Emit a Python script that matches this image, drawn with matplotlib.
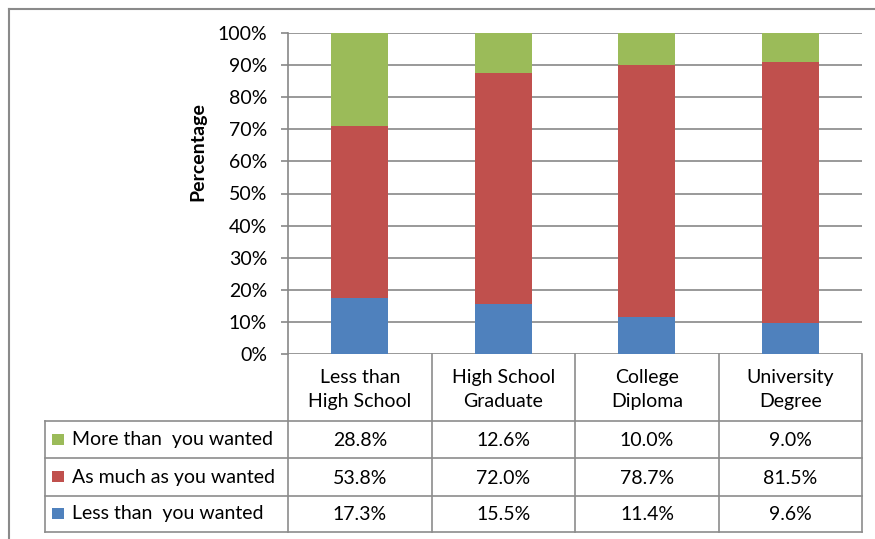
import matplotlib
matplotlib.use("Agg")
import matplotlib.pyplot as plt
from matplotlib.lines import Line2D
from matplotlib.patches import Rectangle
import numpy as np

plt.rcParams['font.family'] = ['Lato', 'DejaVu Sans']

categories = ["Less than\nHigh School", "High School\nGraduate", "College\nDiploma", "University\nDegree"]
series_names = ["More than  you wanted", "As much as you wanted", "Less than  you wanted"]
less_than = [17.3, 15.5, 11.4, 9.6]
as_much = [53.8, 72.0, 78.7, 81.5]
more_than = [28.8, 12.6, 10.0, 9.0]
yticks = [0, 10, 20, 30, 40, 50, 60, 70, 80, 90, 100]

c_green = "#9BBB59"
c_red = "#C0504D"
c_blue = "#4F81BD"
grid_c = "#878787"
FS = 14

W, H = 875, 539
fig = plt.figure(figsize=(W / 100, H / 100), dpi=100)

def fx(px):
    return px / W

def fy(py):
    return 1 - py / H

ax_l, ax_r, ax_t, ax_b = 288, 862, 33, 354
ax = fig.add_axes([fx(ax_l), fy(ax_b), fx(ax_r - ax_l), (ax_b - ax_t) / H])

x = np.arange(len(categories))
bw = 0.4
ax.bar(x, less_than, bw, color=c_blue, zorder=3)
ax.bar(x, as_much, bw, bottom=less_than, color=c_red, zorder=3)
bottom2 = [a + b for a, b in zip(less_than, as_much)]
ax.bar(x, more_than, bw, bottom=bottom2, color=c_green, zorder=3)

ax.set_xlim(-0.5, len(categories) - 0.5)
ax.set_ylim(0, 100)
ax.set_yticks(yticks)
ax.set_yticklabels([f"{v}%" for v in yticks], fontsize=FS)
ax.yaxis.grid(True, color=grid_c, linewidth=1.2, zorder=0)
ax.set_xticks([])
for s in ["top", "right", "bottom"]:
    ax.spines[s].set_visible(False)
ax.spines["left"].set_color(grid_c)
ax.spines["left"].set_linewidth(1.2)
ax.tick_params(axis='y', length=5, color=grid_c, width=1.2, pad=10)
ax.set_ylabel("Percentage", fontsize=FS, fontweight="bold")
ax.yaxis.set_label_coords((206 - ax_l) / (ax_r - ax_l), (ax_b - 152) / (ax_b - ax_t))

# Data table
col_x = [288, 432, 575, 719, 862]
row_y = [354, 421, 458, 496, 532]
tbl_left = 45
lc = "#8C8C8C"
lw = 1.2

def hline(x0, x1, y):
    fig.add_artist(Line2D([fx(x0), fx(x1)], [fy(y), fy(y)], color=lc, lw=lw))

def vline(xp, y0, y1):
    fig.add_artist(Line2D([fx(xp), fx(xp)], [fy(y0), fy(y1)], color=lc, lw=lw))

for y in row_y[1:]:
    hline(tbl_left, col_x[-1], y)
for xp in col_x:
    vline(xp, row_y[0], row_y[-1])
vline(tbl_left, row_y[1], row_y[-1])

for i, cat in enumerate(categories):
    cx = (col_x[i] + col_x[i + 1]) / 2
    fig.text(fx(cx), fy((row_y[0] + row_y[1]) / 2 + 2), cat, ha="center", va="center",
             fontsize=FS, linespacing=1.55)

rows = [(series_names[0], more_than, c_green),
        (series_names[1], as_much, c_red),
        (series_names[2], less_than, c_blue)]
for r, (name, vals, col) in enumerate(rows):
    y0, y1 = row_y[r + 1], row_y[r + 2]
    cy = (y0 + y1) / 2
    fig.add_artist(Rectangle((fx(52), fy(cy + 5)), fx(12), 11 / H, facecolor=col,
                             edgecolor="none", transform=fig.transFigure))
    fig.text(fx(72), fy(cy), name, ha="left", va="center", fontsize=FS)
    for i, v in enumerate(vals):
        cx = (col_x[i] + col_x[i + 1]) / 2
        fig.text(fx(cx), fy(cy + 1), f"{v:.1f}%", ha="center", va="center", fontsize=FS)

# outer chart border
fig.add_artist(Line2D([fx(8.5), fx(8.5)], [fy(8.5), 0], color="#8A8A8A", lw=1.5))
fig.add_artist(Line2D([fx(8.5), 1], [fy(8.5), fy(8.5)], color="#8A8A8A", lw=1.5))

fig.savefig("out.png", dpi=100)
